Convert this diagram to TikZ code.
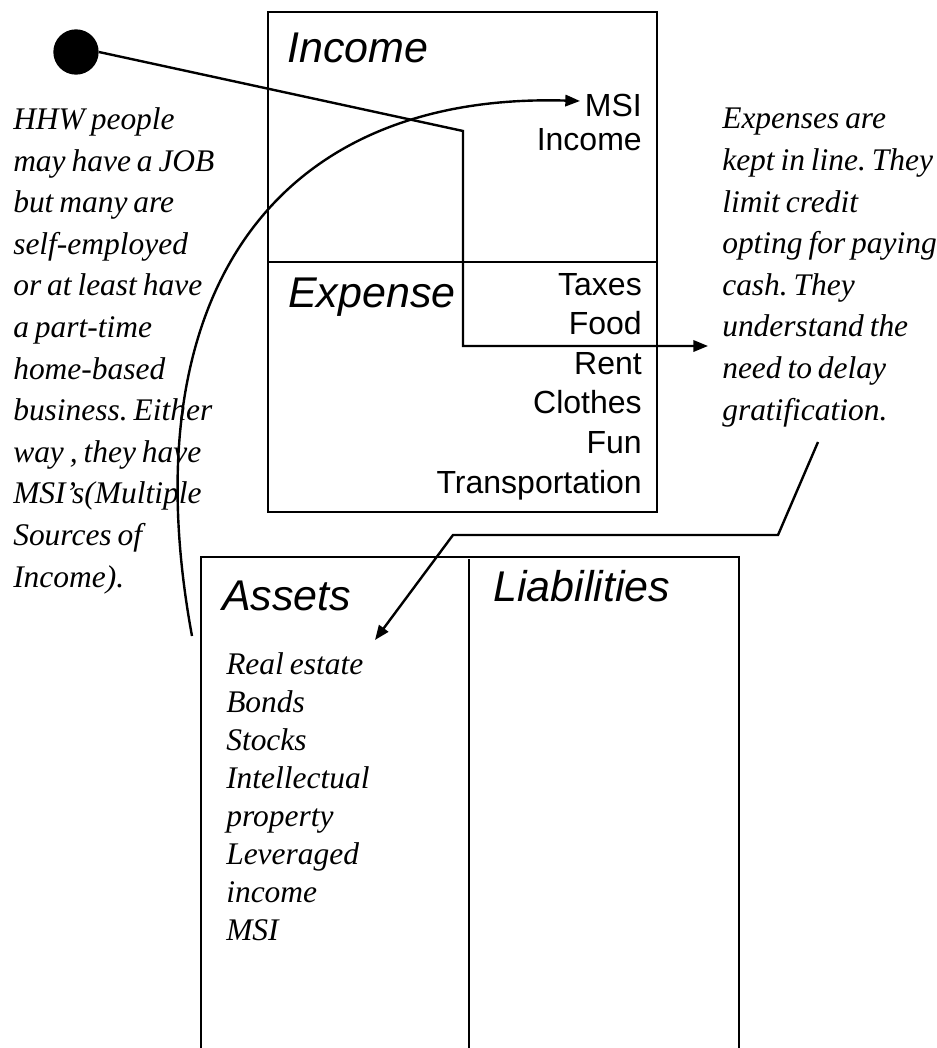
\documentclass[tikz,border=0pt]{standalone}
\usepackage{fontspec}
\setmainfont{Liberation Serif}[WordSpace=0.75]
\setsansfont{Liberation Sans}
\usetikzlibrary{arrows.meta}
\frenchspacing
\begin{document}
\begin{tikzpicture}[x=0.75pt,y=-0.75pt,
  line/.style={line width=1.8pt,draw=black},
  arr/.style={line,-{Triangle[length=11pt,width=8.5pt]}},
  bigsans/.style={inner sep=0pt,font=\fontsize{32.25}{38}\selectfont\sffamily\itshape},
  smallsans/.style={inner sep=0pt,font=\fontsize{24}{29.7}\selectfont\sffamily},
  para/.style={inner sep=0pt,align=left,anchor=base west,font=\fontsize{23.6}{31.2}\selectfont\itshape\frenchspacing},
  lst/.style={inner sep=0pt,align=left,anchor=base west,font=\fontsize{23.6}{28.5}\selectfont\itshape}]
\useasboundingbox (0,0) rectangle (937,1048);
% Income / Expense box
\draw[line] (268,12) rectangle (657,512);
\draw[line] (268,262) -- (657,262);
\node[bigsans,anchor=base west] (income) at (287,63) {Income};
\node[bigsans,anchor=base west] (expense) at (288,307) {Expense};
\node[smallsans,align=right,anchor=base east,font=\fontsize{24}{25.8}\selectfont\sffamily] (msi) at (642,151) {MSI\\Income};
\node[smallsans,align=right,anchor=base east] (items) at (642,493) {Taxes\\Food\\Rent\\Clothes\\Fun\\Transportation};
% Assets / Liabilities box
\draw[line] (201,1052) -- (201,557) -- (739,557) -- (739,1052);
\draw[line] (469,559) -- (469,1052);
\node[bigsans,anchor=base west] (assets) at (222,610) {Assets};
\node[bigsans,anchor=base west] (liab) at (493,601) {Liabilities};
\node[lst] (alist) at (226,940) {Real estate\\Bonds\\Stocks\\Intellectual\\property\\Leveraged\\income\\MSI};
% side texts
\node[para] (left) at (13,587) {HHW people\\may have a JOB\\but many are\\self-employed\\or at least have\\a part-time\\home-based\\business. Either\\way , they have\\MSI's(Multiple\\Sources of\\Income).};
\node[para] (right) at (722,420) {Expenses are\\kept in line. They\\limit credit\\opting for paying\\cash. They\\understand the\\need to delay\\gratification.};
% connectors
\node[circle,fill=black,inner sep=0pt,minimum size=34] (dot) at (76,52) {};
\coordinate (k1) at (463,131);
\coordinate (k2) at (463,346);
\coordinate (t1) at (708,346);
\draw[arr] (dot.east) -- (k1) -- (k2) -- (t1);
\coordinate (cstart) at (192,636);
\coordinate (t2) at (580,101);
\draw[arr] (cstart) .. controls (130,300) and (270,92) .. (t2);
\coordinate (g1) at (818,442);
\coordinate (g2) at (778,535);
\coordinate (g3) at (453,535);
\coordinate (t3) at (375,640);
\draw[arr] (g1) -- (g2) -- (g3) -- (t3);
\end{tikzpicture}
\end{document}
